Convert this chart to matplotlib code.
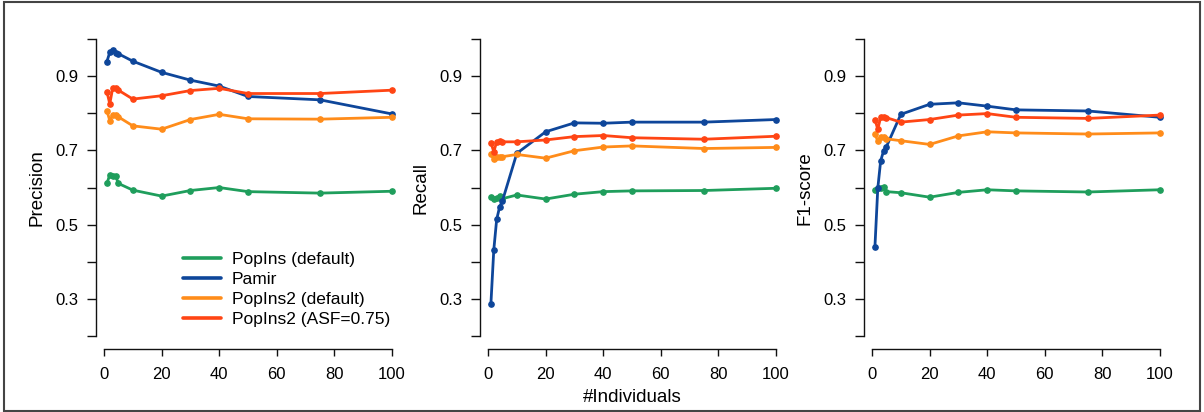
import matplotlib
matplotlib.use("Agg")
import matplotlib.pyplot as plt
from matplotlib.patches import Rectangle

plt.rcParams['font.family'] = ['Liberation Sans', 'DejaVu Sans']

# number of individuals (x axis)
individuals = [1, 2, 3, 4, 5, 10, 20, 30, 40, 50, 75, 100]

methods = ["PopIns (default)", "Pamir", "PopIns2 (default)", "PopIns2 (ASF=0.75)"]
colors = ["#1f9e5c", "#0e469a", "#ff8c1a", "#ff4514"]

precision_popins = [0.611, 0.634, 0.631, 0.631, 0.611, 0.593, 0.577, 0.592, 0.600, 0.589, 0.585, 0.590]
precision_pamir = [0.939, 0.964, 0.970, 0.961, 0.960, 0.940, 0.910, 0.889, 0.873, 0.845, 0.836, 0.798]
precision_popins2 = [0.807, 0.780, 0.795, 0.795, 0.790, 0.766, 0.757, 0.783, 0.797, 0.785, 0.784, 0.789]
precision_asf = [0.858, 0.825, 0.867, 0.868, 0.862, 0.838, 0.847, 0.861, 0.867, 0.853, 0.853, 0.862]

recall_popins = [0.574, 0.569, 0.571, 0.576, 0.570, 0.580, 0.569, 0.582, 0.589, 0.591, 0.592, 0.598]
recall_pamir = [0.287, 0.432, 0.514, 0.547, 0.564, 0.692, 0.750, 0.774, 0.773, 0.776, 0.776, 0.783]
recall_popins2 = [0.689, 0.677, 0.683, 0.683, 0.683, 0.689, 0.679, 0.699, 0.709, 0.712, 0.705, 0.708]
recall_asf = [0.721, 0.696, 0.723, 0.724, 0.723, 0.723, 0.728, 0.737, 0.740, 0.734, 0.730, 0.738]

f1_popins = [0.593, 0.598, 0.600, 0.602, 0.589, 0.586, 0.574, 0.587, 0.594, 0.591, 0.588, 0.594]
f1_pamir = [0.439, 0.598, 0.672, 0.698, 0.710, 0.797, 0.824, 0.828, 0.819, 0.809, 0.806, 0.789]
f1_popins2 = [0.743, 0.726, 0.737, 0.735, 0.731, 0.726, 0.716, 0.739, 0.750, 0.747, 0.744, 0.747]
f1_asf = [0.783, 0.757, 0.789, 0.790, 0.788, 0.776, 0.783, 0.795, 0.799, 0.789, 0.786, 0.795]

y_ticks = [0.2, 0.3, 0.4, 0.5, 0.6, 0.7, 0.8, 0.9, 1.0]
y_ticklabels = ["", "0.3", "", "0.5", "", "0.7", "", "0.9", ""]
x_ticks = [0, 20, 40, 60, 80, 100]

panels = [
    ("Precision", [precision_popins, precision_pamir, precision_popins2, precision_asf]),
    ("Recall", [recall_popins, recall_pamir, recall_popins2, recall_asf]),
    ("F1-score", [f1_popins, f1_pamir, f1_popins2, f1_asf]),
]


def main():
    W, H = 1204, 412
    fig = plt.figure(figsize=(W / 100, H / 100), dpi=100)

    lefts = [95.5, 479.5, 863.5]
    ax_w, top, bottom = 307.9, 27, 349

    axes = []
    for left, (ylabel, series) in zip(lefts, panels):
        ax = fig.add_axes([left / W, (H - bottom) / H, ax_w / W, (bottom - top) / H])
        for vals, col in zip(series, colors):
            ax.plot(individuals, vals, color=col, lw=2.0, marker='o', ms=3.8,
                    solid_capstyle='round', solid_joinstyle='round')

        ax.set_xlim(-2.96, 103.96)
        ax.set_ylim(0.1655, 1.032)
        for s in ['top', 'right']:
            ax.spines[s].set_visible(False)
        ax.spines['left'].set_bounds(0.2, 1.0)
        ax.spines['bottom'].set_bounds(0, 100)
        for s in ['left', 'bottom']:
            ax.spines[s].set_linewidth(1.0)
            ax.spines[s].set_color('#111111')

        ax.set_yticks(y_ticks)
        ax.set_yticklabels(y_ticklabels)
        ax.set_xticks(x_ticks)
        ax.tick_params(axis='y', length=6.5, width=1.0, pad=6, labelsize=12, color='#111111')
        ax.tick_params(axis='x', length=5.2, width=1.0, pad=7.5, labelsize=12, color='#111111')
        ax.set_ylabel(ylabel, fontsize=13.5)
        ax.yaxis.set_label_coords(-0.161, 0.5)
        axes.append(ax)

    fig.text(632 / W, 1 - 398 / H, "#Individuals", fontsize=13.5, ha='center', va='center')

    handles = axes[0].get_lines()
    axes[0].legend(handles, methods, loc='upper left', frameon=False,
                   bbox_to_anchor=(183 / W, 1 - 252 / H), bbox_transform=fig.transFigure,
                   borderpad=0, borderaxespad=0, handlelength=2.2, handletextpad=0.6,
                   labelspacing=0.28, fontsize=12.5)
    # legend shows plain lines without the dot markers
    for line in axes[0].get_legend().get_lines():
        line.set_marker('')
        line.set_linewidth(2.6)

    # outer frame round the whole figure
    fig.patches.append(Rectangle((0.003, 0.002), 0.994, 0.993, transform=fig.transFigure,
                                 fill=False, edgecolor='#444444', lw=1.5))

    fig.savefig("out.png", dpi=100)


if __name__ == "__main__":
    main()
